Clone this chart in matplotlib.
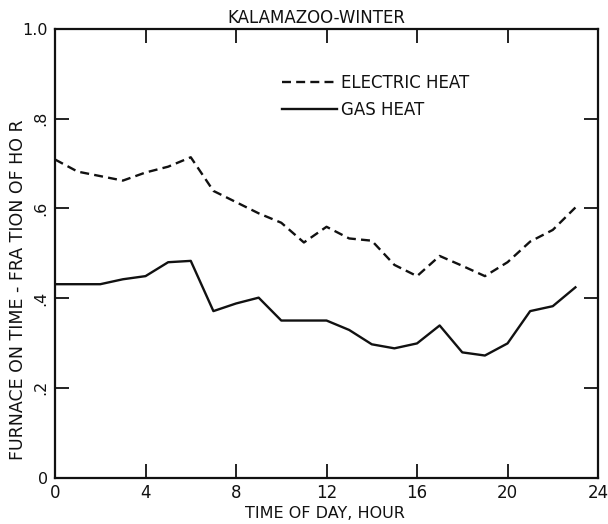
import matplotlib
matplotlib.use("Agg")
import matplotlib.pyplot as plt

# Hourly furnace on-time, Kalamazoo winter
hours = list(range(24))
electric_heat = [0.709, 0.682, 0.672, 0.662, 0.680, 0.693, 0.714, 0.639,
                 0.614, 0.589, 0.568, 0.524, 0.559, 0.533, 0.528, 0.474,
                 0.449, 0.494, 0.472, 0.449, 0.480, 0.526, 0.552, 0.602]
gas_heat = [0.431, 0.431, 0.431, 0.442, 0.449, 0.480, 0.483, 0.371,
            0.388, 0.401, 0.350, 0.350, 0.350, 0.329, 0.297, 0.288,
            0.299, 0.339, 0.279, 0.272, 0.299, 0.371, 0.382, 0.424]

x_ticks = [0, 4, 8, 12, 16, 20, 24]
x_ticklabels = ["0", "4", "8", "12", "16", "20", "24"]
y_ticks = [0, 0.2, 0.4, 0.6, 0.8, 1.0]
y_ticklabels = ["0", ".2", ".4", ".6", ".8", "1.0"]

plt.rcParams["font.family"] = ["DejaVu Sans"]

fig = plt.figure(figsize=(6.08, 5.24), dpi=100)
ax = fig.add_axes([0.0905, 0.0887, 0.8931, 0.856])

ink = "#111111"
ax.plot(hours, electric_heat, color=ink, lw=1.7, dashes=(3.8, 2.2),
        label="ELECTRIC HEAT")
ax.plot(hours, gas_heat, color=ink, lw=1.7, label="GAS HEAT")

ax.set_xlim(0, 24)
ax.set_ylim(0, 1.0)
ax.set_xticks(x_ticks)
ax.set_xticklabels(x_ticklabels, fontsize=12)
ax.set_yticks(y_ticks)
ax.set_yticklabels(y_ticklabels, fontsize=11.5)
for lbl in ax.get_yticklabels():
    if lbl.get_text() not in ("0", "1.0"):
        lbl.set_rotation(90)
        lbl.set_va("center")

ax.tick_params(direction="in", length=10, width=1.3, top=True, right=True,
               colors=ink, pad=5)
for s in ax.spines.values():
    s.set_linewidth(1.6)
    s.set_color(ink)

leg = ax.legend(loc="upper left", bbox_to_anchor=(0.418, 0.9),
                frameon=False, fontsize=12, handlelength=3.3,
                handletextpad=0.25, labelspacing=0.55, borderpad=0,
                borderaxespad=0)
for t in leg.get_texts():
    t.set_color(ink)

fig.text(316 / 608, 1 - 18 / 524, "KALAMAZOO-WINTER", ha="center",
         va="center", fontsize=12, color=ink)
fig.text(325 / 608, 1 - 513 / 524, "TIME OF DAY, HOUR", ha="center",
         va="center", fontsize=11.5, color=ink)
fig.text(18 / 608, 1 - 290 / 524, "FURNACE ON TIME - FRA TION OF HO R",
         ha="center", va="center", rotation=90, fontsize=12.5, color=ink)

fig.savefig("out.png", dpi=100)
